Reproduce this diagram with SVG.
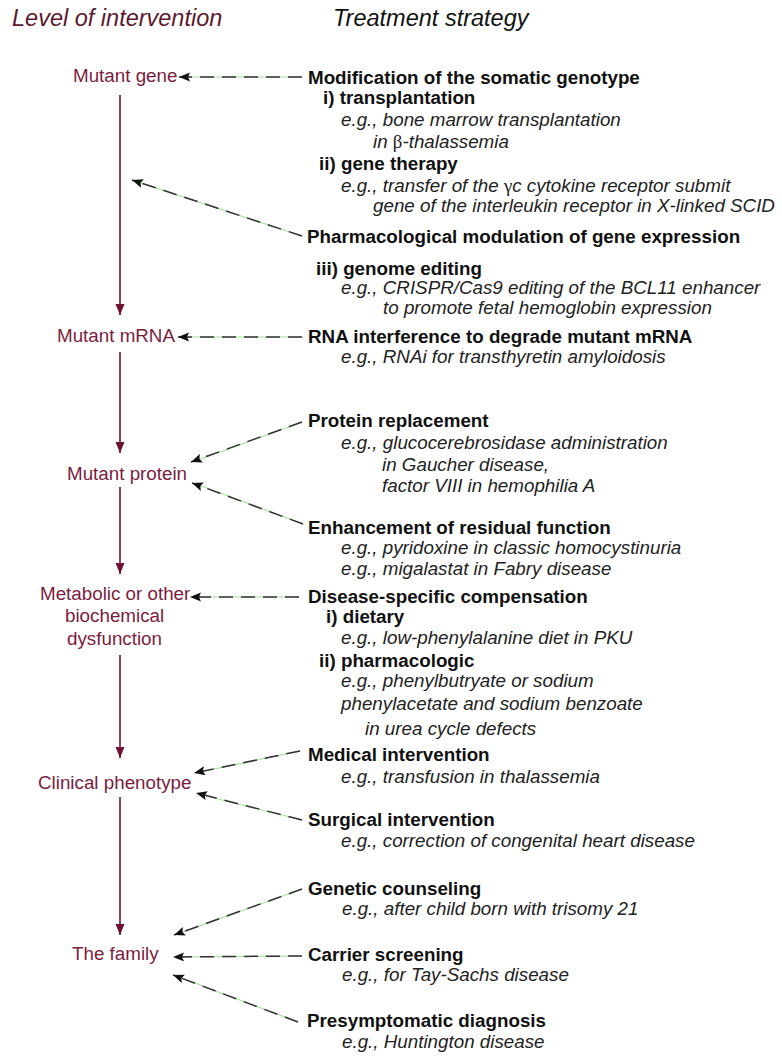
<svg xmlns="http://www.w3.org/2000/svg" width="782" height="1059" viewBox="0 0 782 1059">
<style>
text{font-family:"Liberation Sans",Arial,sans-serif;}
.hd{font-size:23.5px;font-style:italic;}
.lv{font-size:18.8px;fill:#7a1d3e;}
.b{font-size:18.8px;font-weight:bold;fill:#111;}
.i{font-size:18.8px;font-style:italic;fill:#222;}
.gk{font-family:"Liberation Serif",serif;font-style:normal;}
.vl{stroke:#6d1431;stroke-width:1.6;fill:none;}
.gl{stroke:#a8dea0;stroke-width:1.2;fill:none;}
.dl{stroke:#333;stroke-width:1.5;stroke-dasharray:14 8;fill:none;}
</style>
<defs>
<marker id="am" markerUnits="userSpaceOnUse" markerWidth="12" markerHeight="10" refX="11" refY="4.5" orient="auto">
<path d="M0,0 L11,4.5 L0,9 z" fill="#6d1431"/>
</marker>
<marker id="ak" markerUnits="userSpaceOnUse" markerWidth="12" markerHeight="10" refX="11" refY="4.5" orient="auto">
<path d="M0,0 L11,4.5 L0,9 L2,4.5 z" fill="#111"/>
</marker>
</defs>
<rect width="782" height="1059" fill="#fff"/>

<g id="headers">
<text class="hd" x="12" y="26" fill="#5c1a2e">Level of intervention</text>
<text class="hd" x="333" y="26" fill="#111">Treatment strategy</text>
</g>

<g id="connectors">
<line class="vl" x1="120" y1="95" x2="120" y2="315" marker-end="url(#am)"/>
<line class="vl" x1="120" y1="352" x2="120" y2="453" marker-end="url(#am)"/>
<line class="vl" x1="120" y1="487" x2="120" y2="574" marker-end="url(#am)"/>
<line class="vl" x1="120" y1="655" x2="120" y2="758" marker-end="url(#am)"/>
<line class="vl" x1="120" y1="797" x2="120" y2="935" marker-end="url(#am)"/>

<g id="dashed-under">
<line class="gl" x1="302" y1="77" x2="186" y2="77"/>
<line class="gl" x1="302" y1="236" x2="138" y2="182"/>
<line class="gl" x1="302" y1="337" x2="186" y2="337"/>
<line class="gl" x1="302" y1="422" x2="198" y2="460"/>
<line class="gl" x1="303" y1="524" x2="199" y2="485"/>
<line class="gl" x1="299" y1="597" x2="196" y2="597"/>
<line class="gl" x1="300" y1="751" x2="200" y2="772"/>
<line class="gl" x1="302" y1="820" x2="202" y2="795"/>
<line class="gl" x1="302" y1="889" x2="180" y2="933"/>
<line class="gl" x1="302" y1="956" x2="180" y2="957"/>
<line class="gl" x1="298" y1="1022" x2="179" y2="977"/>
</g>
<g id="dashed">
<line class="dl" x1="302" y1="77" x2="179" y2="77" marker-end="url(#ak)"/>
<line class="dl" x1="302" y1="236" x2="132" y2="180" marker-end="url(#ak)"/>
<line class="dl" x1="302" y1="337" x2="178" y2="337" marker-end="url(#ak)"/>
<line class="dl" x1="302" y1="422" x2="191" y2="462" marker-end="url(#ak)"/>
<line class="dl" x1="303" y1="524" x2="192" y2="483" marker-end="url(#ak)"/>
<line class="dl" x1="299" y1="597" x2="190" y2="597" marker-end="url(#ak)"/>
<line class="dl" x1="300" y1="751" x2="194" y2="773" marker-end="url(#ak)"/>
<line class="dl" x1="302" y1="820" x2="196" y2="793" marker-end="url(#ak)"/>
<line class="dl" x1="302" y1="889" x2="174" y2="935" marker-end="url(#ak)"/>
<line class="dl" x1="302" y1="956" x2="173" y2="957" marker-end="url(#ak)"/>
<line class="dl" x1="298" y1="1022" x2="173" y2="975" marker-end="url(#ak)"/>
</g>
</g>

<g id="level-gene"><text class="lv" x="73" y="82">Mutant gene</text></g>
<g id="level-mrna"><text class="lv" x="57" y="342">Mutant mRNA</text></g>
<g id="level-protein"><text class="lv" x="67" y="480">Mutant protein</text></g>
<g id="level-metabolic">
<text class="lv" x="40" y="600">Metabolic or other</text>
<text class="lv" x="65" y="622">biochemical</text>
<text class="lv" x="67" y="645">dysfunction</text>
</g>
<g id="level-clinical"><text class="lv" x="38" y="789">Clinical phenotype</text></g>
<g id="level-family"><text class="lv" x="72" y="960">The family</text></g>

<g id="strat-somatic">
<text class="b" x="308" y="84">Modification of the somatic genotype</text>
<text class="b" x="323" y="104">i) transplantation</text>
<text class="i" x="341" y="126">e.g., bone marrow transplantation</text>
<text class="i" x="373" y="148">in <tspan class="gk">β</tspan>-thalassemia</text>
<text class="b" x="319" y="170">ii) gene therapy</text>
<text class="i" x="341" y="192">e.g., transfer of the <tspan class="gk">γ</tspan>c cytokine receptor submit</text>
<text class="i" x="373" y="212">gene of the interleukin receptor in X-linked SCID</text>
</g>
<g id="strat-pharm">
<text class="b" x="307" y="243">Pharmacological modulation of gene expression</text>
</g>
<g id="strat-genome">
<text class="b" x="316" y="275">iii) genome editing</text>
<text class="i" x="341" y="294">e.g., CRISPR/Cas9 editing of the BCL11 enhancer</text>
<text class="i" x="383" y="314">to promote fetal hemoglobin expression</text>
</g>
<g id="strat-rnai">
<text class="b" x="308" y="343">RNA interference to degrade mutant mRNA</text>
<text class="i" x="341" y="363">e.g., RNAi for transthyretin amyloidosis</text>
</g>
<g id="strat-protein">
<text class="b" x="308" y="427">Protein replacement</text>
<text class="i" x="341" y="449">e.g., glucocerebrosidase administration</text>
<text class="i" x="382" y="471">in Gaucher disease,</text>
<text class="i" x="382" y="492">factor VIII in hemophilia A</text>
</g>
<g id="strat-enhance">
<text class="b" x="308" y="534">Enhancement of residual function</text>
<text class="i" x="341" y="554">e.g., pyridoxine in classic homocystinuria</text>
<text class="i" x="341" y="575">e.g., migalastat in Fabry disease</text>
</g>
<g id="strat-compensation">
<text class="b" x="308" y="603">Disease-specific compensation</text>
<text class="b" x="326" y="623">i) dietary</text>
<text class="i" x="341" y="644">e.g., low-phenylalanine diet in PKU</text>
<text class="b" x="319" y="667">ii) pharmacologic</text>
<text class="i" x="341" y="687">e.g., phenylbutryate or sodium</text>
<text class="i" x="341" y="710">phenylacetate and sodium benzoate</text>
<text class="i" x="365" y="735">in urea cycle defects</text>
</g>
<g id="strat-medical">
<text class="b" x="308" y="761">Medical intervention</text>
<text class="i" x="341" y="783">e.g., transfusion in thalassemia</text>
</g>
<g id="strat-surgical">
<text class="b" x="308" y="826">Surgical intervention</text>
<text class="i" x="341" y="847">e.g., correction of congenital heart disease</text>
</g>
<g id="strat-counseling">
<text class="b" x="308" y="895">Genetic counseling</text>
<text class="i" x="342" y="915">e.g., after child born with trisomy 21</text>
</g>
<g id="strat-carrier">
<text class="b" x="308" y="961">Carrier screening</text>
<text class="i" x="342" y="981">e.g., for Tay-Sachs disease</text>
</g>
<g id="strat-presymptomatic">
<text class="b" x="307" y="1027">Presymptomatic diagnosis</text>
<text class="i" x="342" y="1048">e.g., Huntington disease</text>
</g>
</svg>
